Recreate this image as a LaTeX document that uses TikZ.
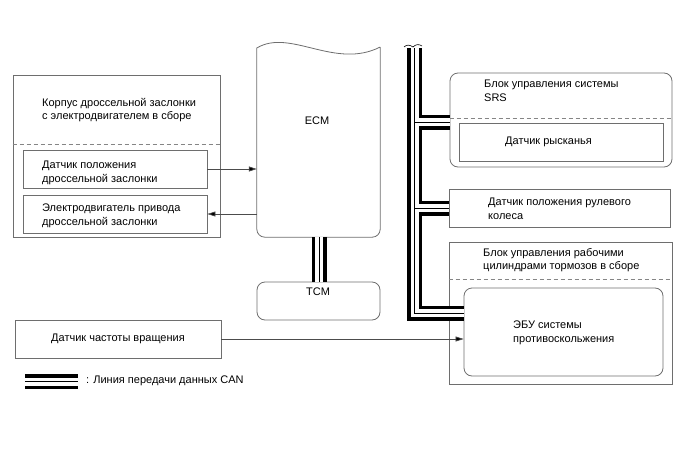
\documentclass[tikz,border=0pt]{standalone}
\usepackage{fontspec}
\setmainfont{Liberation Sans}
\usetikzlibrary{arrows.meta}
\definecolor{linegray}{HTML}{6E6E6E}
\definecolor{dashgray}{HTML}{858585}

\begin{document}
\begin{tikzpicture}[x=1pt, y=-1pt,
  box/.style={draw=linegray, line width=0.8pt, inner sep=0pt},
  rbox/.style={box, rounded corners=8pt},
  lbl/.style={font=\fontsize{11}{13.5}\selectfont, align=left, anchor=west, inner sep=0pt},
  sep/.style={draw=dashgray, line width=0.7pt, dash pattern=on 4pt off 3pt},
  sig/.style={draw=black!70, line width=0.7pt, -{Triangle[length=8pt,width=5pt,fill=black]}},
  can/.style={draw=black, line width=15pt, postaction={draw=white, line width=8pt}, postaction={draw=black, line width=0.8pt}}
]
  \useasboundingbox (0,0) rectangle (688,463);

  % throttle body
  \node[box, minimum width=207pt, minimum height=162pt] (throttle) at (116.5,156) {};
  \draw[sep] (throttle.west |- 0,144) -- (throttle.east |- 0,144);
  \node[box, minimum width=184pt, minimum height=38pt] (tps) at (115,169) {};
  \node[box, minimum width=184pt, minimum height=38pt] (motor) at (115,214) {};
  \node[lbl] (throttlelbl) at (42,110) {Корпус дроссельной заслонки\\с электродвигателем в сборе};
  \node[lbl] (tpslbl) at (42,173) {Датчик положения\\дроссельной заслонки};
  \node[lbl] (motorlbl) at (42,216) {Электродвигатель привода\\дроссельной заслонки};

  % speed sensor
  \node[box, minimum width=206pt, minimum height=38pt] (speed) at (118,339) {};
  \node[lbl, anchor=center] (speedlbl) at (speed) {Датчик частоты вращения};

  % ECM and TCM
  \node[minimum width=123pt, minimum height=192pt, inner sep=0pt] (ecm) at (318.5,141) {};
  \draw[draw=linegray, line width=0.8pt] (ecm.east |- 0,47) .. controls (335,70) and (290,28) .. (ecm.west |- 0,48)
    [rounded corners=8pt] -- (ecm.south west) -- (ecm.south east) -- (ecm.east |- 0,47);
  \node[lbl, anchor=center] (ecmlbl) at (317,121) {ECM};
  \node[rbox, minimum width=123pt, minimum height=38pt] (tcm) at (318.5,301) {};
  \node[lbl, anchor=center] (tcmlbl) at (318,292) {TCM};

  % SRS
  \node[rbox, minimum width=222pt, minimum height=94pt] (srs) at (561,120) {};
  \draw[sep] (srs.west |- 0,118) -- (srs.east |- 0,118);
  \node[box, minimum width=204pt, minimum height=38pt] (yaw) at (561,142) {};
  \node[lbl] (srslbl) at (484,91) {Блок управления системы\\SRS};
  \node[lbl] (yawlbl) at (505,142) {Датчик рысканья};

  % steering
  \node[box, minimum width=221pt, minimum height=38pt] (steer) at (559.5,208) {};
  \node[lbl] (steerlbl) at (488,209) {Датчик положения рулевого\\колеса};

  % brake actuator
  \node[box, minimum width=223pt, minimum height=142pt] (brake) at (560.5,313) {};
  \draw[sep] (brake.west |- 0,279) -- (brake.east |- 0,279);
  \node[rbox, minimum width=199pt, minimum height=88pt] (ebu) at (563.5,332) {};
  \node[lbl] (brakelbl) at (483,260) {Блок управления рабочими\\цилиндрами тормозов в сборе};
  \node[lbl] (ebulbl) at (513,333) {ЭБУ системы\\противоскольжения};

  % signals
  \draw[sig] (tps.east) -- (tps.east -| ecm.west);
  \draw[sig] (motor.east -| ecm.west) -- (motor.east);
  \draw[sig] (speed.east) -- (speed.east -| ebu.west);

  % CAN
  \coordinate (bustop) at (414.5,48);
  \coordinate (srsjoin) at ([yshift=-2pt]srs.west);
  \coordinate (ebujoin) at ([yshift=19pt]ebu.west);
  \draw[can] (bustop) -- (bustop |- ebujoin) -- (ebujoin)
    (bustop |- srsjoin) -- (srsjoin)
    (bustop |- steer.west) -- (steer.west);
  \draw[line width=0.6pt] (404,47) .. controls (407,44) and (410,45) .. (413,47) .. controls (416,44) and (419,44) .. (422,46);
  \draw[can] ([xshift=0.5pt]ecm.south) -- ([xshift=0.5pt]tcm.north);

  % legend
  \coordinate (lega) at (25,381.5);
  \coordinate (legb) at (78,381.5);
  \draw[can] (lega) -- (legb);
  \node[lbl] (leglbl) at (86,381) {: Линия передачи данных CAN};
\end{tikzpicture}
\end{document}
